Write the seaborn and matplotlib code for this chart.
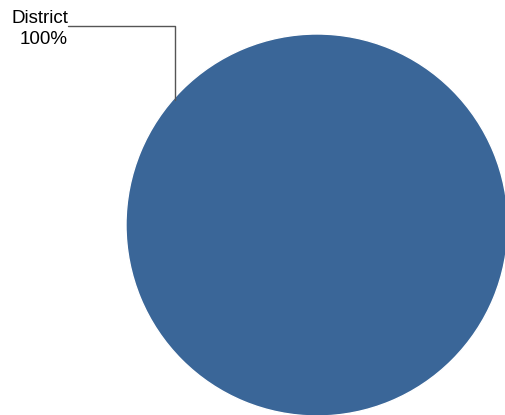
import matplotlib
matplotlib.use("Agg")
import matplotlib.pyplot as plt
import seaborn as sns

# data
categories = ["District"]
shares = [100]

sns.set_theme(style="white")
plt.rcParams['font.family'] = ['Liberation Sans', 'DejaVu Sans']

fig = plt.figure(figsize=(5.05, 4.15), dpi=100)
ax = fig.add_axes([0, 0, 1, 1])

pie_color = "#3A6698"
ax.pie(shares, colors=[pie_color], center=(317, 225), radius=191,
       startangle=90, counterclock=False, frame=True)

ax.set_xlim(0, 505)
ax.set_ylim(415, 0)
ax.set_aspect("equal")
ax.axis("off")

# label with leader line
total = sum(shares)
ax.text(68, 23, categories[0], ha="right", va="baseline", fontsize=13.5, color="black")
ax.text(68, 44, f"{shares[0] / total * 100:.0f}%", ha="right", va="baseline",
        fontsize=13.5, color="black")
ax.plot([68, 175, 175], [26, 26, 100], color="#555555", lw=1)

fig.savefig("out.png", dpi=100)
